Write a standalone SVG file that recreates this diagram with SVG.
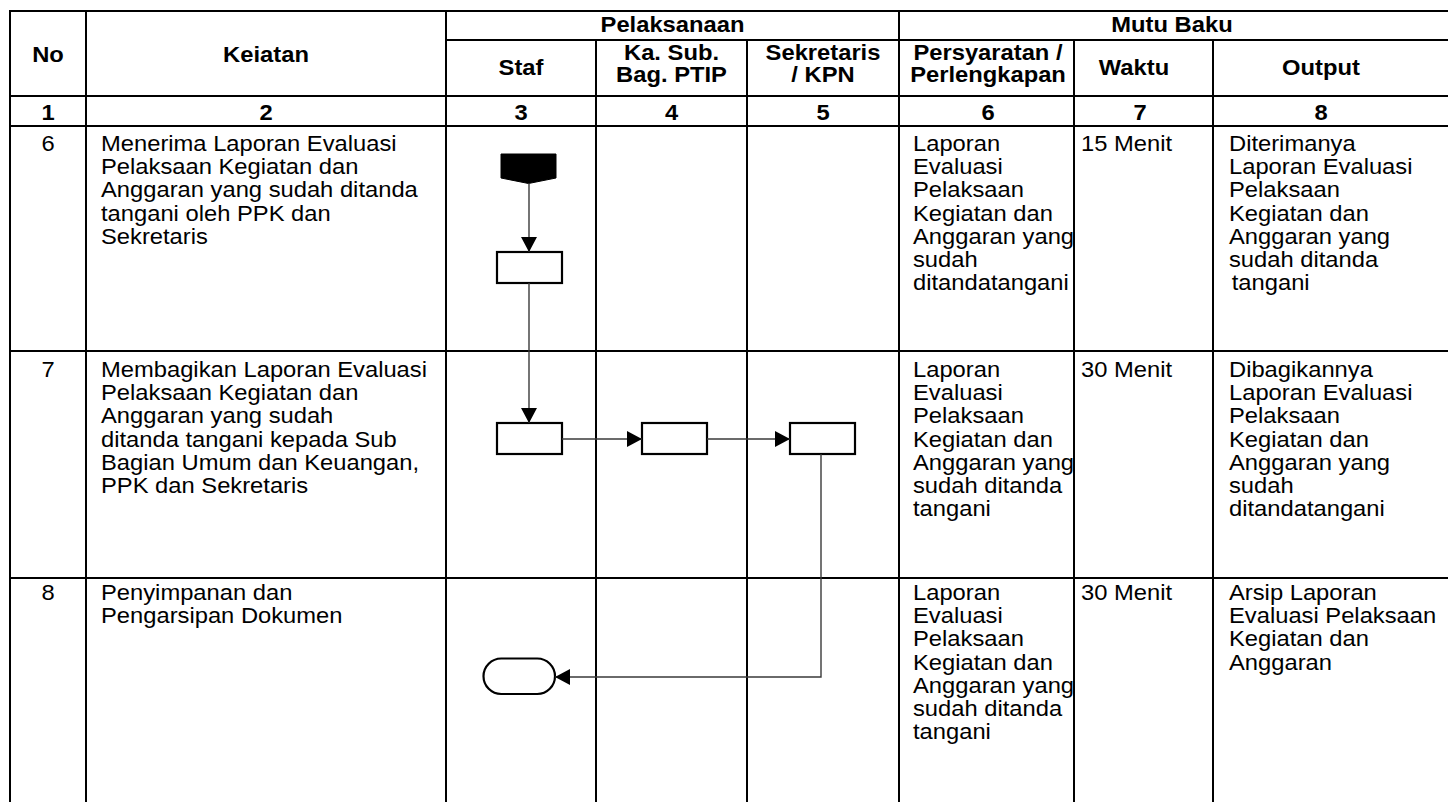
<svg xmlns="http://www.w3.org/2000/svg" width="1448" height="802" viewBox="0 0 1448 802">
  <style>
    .t { font-family: "Liberation Sans", Arial, sans-serif; font-size: 21.5px; fill: #000; }
    .b { font-weight: bold; }
    .c { text-anchor: middle; }
    .grid line { stroke: #000; stroke-width: 2; }
    .shape { fill: #fff; stroke: #000; stroke-width: 2.2; }
    .flow { fill: none; stroke: #3a3a3a; stroke-width: 1.4; }
  </style>
  <defs>
    <marker id="arrow" markerUnits="userSpaceOnUse" markerWidth="16" markerHeight="16" refX="15" refY="8" orient="auto">
      <path d="M0,0 L15,8 L0,16 Z" fill="#000"/>
    </marker>
  </defs>

  <rect width="1448" height="802" fill="#fff"/>

  <!-- table grid -->
  <g class="grid" id="grid">
    <line x1="10" y1="11" x2="1460" y2="11"/>
    <line x1="446" y1="40" x2="1460" y2="40"/>
    <line x1="10" y1="96" x2="1460" y2="96"/>
    <line x1="10" y1="126" x2="1460" y2="126"/>
    <line x1="10" y1="351" x2="1460" y2="351"/>
    <line x1="10" y1="578" x2="1460" y2="578"/>
    <line x1="10" y1="10" x2="10" y2="804"/>
    <line x1="86" y1="10" x2="86" y2="804"/>
    <line x1="446" y1="10" x2="446" y2="804"/>
    <line x1="596" y1="40" x2="596" y2="804"/>
    <line x1="747" y1="40" x2="747" y2="804"/>
    <line x1="899" y1="10" x2="899" y2="804"/>
    <line x1="1074" y1="40" x2="1074" y2="804"/>
    <line x1="1213" y1="40" x2="1213" y2="804"/>
  </g>

  <!-- column headings -->
  <g id="header">
    <text class="t b c" transform="translate(48 62) scale(1.105 1)">No</text>
    <text class="t b c" transform="translate(266 62) scale(1.105 1)">Keiatan</text>
    <text class="t b c" transform="translate(672.5 32) scale(1.105 1)">Pelaksanaan</text>
    <text class="t b c" transform="translate(521 75) scale(1.105 1)">Staf</text>
    <text class="t b c" transform="translate(671.5 60) scale(1.105 1)"><tspan x="0">Ka. Sub.</tspan><tspan x="0" dy="22.5">Bag. PTIP</tspan></text>
    <text class="t b c" transform="translate(823 60) scale(1.105 1)"><tspan x="0">Sekretaris</tspan><tspan x="0" dy="22.5">/ KPN</tspan></text>
    <text class="t b c" transform="translate(1172 32) scale(1.105 1)">Mutu Baku</text>
    <text class="t b c" transform="translate(988 60) scale(1.105 1)"><tspan x="0">Persyaratan /</tspan><tspan x="0" dy="22.5">Perlengkapan</tspan></text>
    <text class="t b c" transform="translate(1134 75) scale(1.105 1)">Waktu</text>
    <text class="t b c" transform="translate(1321 75) scale(1.105 1)">Output</text>
  </g>

  <!-- column numbers -->
  <g id="numbers">
    <text class="t b c" transform="translate(48 120) scale(1.105 1)">1</text>
    <text class="t b c" transform="translate(266 120) scale(1.105 1)">2</text>
    <text class="t b c" transform="translate(521 120) scale(1.105 1)">3</text>
    <text class="t b c" transform="translate(671.5 120) scale(1.105 1)">4</text>
    <text class="t b c" transform="translate(823 120) scale(1.105 1)">5</text>
    <text class="t b c" transform="translate(988 120) scale(1.105 1)">6</text>
    <text class="t b c" transform="translate(1140 120) scale(1.105 1)">7</text>
    <text class="t b c" transform="translate(1321 120) scale(1.105 1)">8</text>
  </g>

  <!-- step 6 -->
  <g id="row6">
    <text class="t c" transform="translate(48 151) scale(1.105 1)">6</text>
    <text class="t" transform="translate(101 151) scale(1.105 1)"><tspan x="0">Menerima Laporan Evaluasi</tspan><tspan x="0" dy="23.2">Pelaksaan Kegiatan dan</tspan><tspan x="0" dy="23.2">Anggaran yang sudah ditanda</tspan><tspan x="0" dy="23.2">tangani oleh PPK dan</tspan><tspan x="0" dy="23.2">Sekretaris</tspan></text>
    <text class="t" transform="translate(913 151) scale(1.105 1)"><tspan x="0">Laporan</tspan><tspan x="0" dy="23.2">Evaluasi</tspan><tspan x="0" dy="23.2">Pelaksaan</tspan><tspan x="0" dy="23.2">Kegiatan dan</tspan><tspan x="0" dy="23.2">Anggaran yang</tspan><tspan x="0" dy="23.2">sudah</tspan><tspan x="0" dy="23.2">ditandatangani</tspan></text>
    <text class="t" transform="translate(1081 151) scale(1.105 1)">15 Menit</text>
    <text class="t" transform="translate(1229 151) scale(1.105 1)"><tspan x="0">Diterimanya</tspan><tspan x="0" dy="23.2">Laporan Evaluasi</tspan><tspan x="0" dy="23.2">Pelaksaan</tspan><tspan x="0" dy="23.2">Kegiatan dan</tspan><tspan x="0" dy="23.2">Anggaran yang</tspan><tspan x="0" dy="23.2">sudah ditanda</tspan><tspan x="2.5" dy="23.2">tangani</tspan></text>
  </g>

  <!-- step 7 -->
  <g id="row7">
    <text class="t c" transform="translate(48 377) scale(1.105 1)">7</text>
    <text class="t" transform="translate(101 377) scale(1.105 1)"><tspan x="0">Membagikan Laporan Evaluasi</tspan><tspan x="0" dy="23.2">Pelaksaan Kegiatan dan</tspan><tspan x="0" dy="23.2">Anggaran yang sudah</tspan><tspan x="0" dy="23.2">ditanda tangani kepada Sub</tspan><tspan x="0" dy="23.2">Bagian Umum dan Keuangan,</tspan><tspan x="0" dy="23.2">PPK dan Sekretaris</tspan></text>
    <text class="t" transform="translate(913 377) scale(1.105 1)"><tspan x="0">Laporan</tspan><tspan x="0" dy="23.2">Evaluasi</tspan><tspan x="0" dy="23.2">Pelaksaan</tspan><tspan x="0" dy="23.2">Kegiatan dan</tspan><tspan x="0" dy="23.2">Anggaran yang</tspan><tspan x="0" dy="23.2">sudah ditanda</tspan><tspan x="0" dy="23.2">tangani</tspan></text>
    <text class="t" transform="translate(1081 377) scale(1.105 1)">30 Menit</text>
    <text class="t" transform="translate(1229 377) scale(1.105 1)"><tspan x="0">Dibagikannya</tspan><tspan x="0" dy="23.2">Laporan Evaluasi</tspan><tspan x="0" dy="23.2">Pelaksaan</tspan><tspan x="0" dy="23.2">Kegiatan dan</tspan><tspan x="0" dy="23.2">Anggaran yang</tspan><tspan x="0" dy="23.2">sudah</tspan><tspan x="0" dy="23.2">ditandatangani</tspan></text>
  </g>

  <!-- step 8 -->
  <g id="row8">
    <text class="t c" transform="translate(48 600) scale(1.105 1)">8</text>
    <text class="t" transform="translate(101 600) scale(1.105 1)"><tspan x="0">Penyimpanan dan</tspan><tspan x="0" dy="23.2">Pengarsipan Dokumen</tspan></text>
    <text class="t" transform="translate(913 600) scale(1.105 1)"><tspan x="0">Laporan</tspan><tspan x="0" dy="23.2">Evaluasi</tspan><tspan x="0" dy="23.2">Pelaksaan</tspan><tspan x="0" dy="23.2">Kegiatan dan</tspan><tspan x="0" dy="23.2">Anggaran yang</tspan><tspan x="0" dy="23.2">sudah ditanda</tspan><tspan x="0" dy="23.2">tangani</tspan></text>
    <text class="t" transform="translate(1081 600) scale(1.105 1)">30 Menit</text>
    <text class="t" transform="translate(1229 600) scale(1.105 1)"><tspan x="0">Arsip Laporan</tspan><tspan x="0" dy="23.2">Evaluasi Pelaksaan</tspan><tspan x="0" dy="23.2">Kegiatan dan</tspan><tspan x="0" dy="23.2">Anggaran</tspan></text>
  </g>

  <!-- flow symbols -->
  <g id="start-connector">
    <polygon points="501,154 556,154 556,178 528.5,183.5 501,178" fill="#000" stroke="#000" stroke-width="1"/>
  </g>
  <g id="staf-receive">
    <rect class="shape" x="497" y="252" width="65" height="31"/>
  </g>
  <g id="staf-distribute">
    <rect class="shape" x="497" y="423" width="65" height="31"/>
  </g>
  <g id="kasubbag">
    <rect class="shape" x="642" y="423" width="65" height="31"/>
  </g>
  <g id="sekretaris">
    <rect class="shape" x="790" y="423" width="65" height="31"/>
  </g>
  <g id="end">
    <rect class="shape" x="483.5" y="658.5" width="71.5" height="35.5" rx="17.75"/>
  </g>

  <!-- connectors -->
  <g id="connectors">
    <path class="flow" d="M529,183.5 V252" marker-end="url(#arrow)"/>
    <path class="flow" d="M529,283 V423" marker-end="url(#arrow)"/>
    <path class="flow" d="M562,439 H642" marker-end="url(#arrow)"/>
    <path class="flow" d="M707,439 H790" marker-end="url(#arrow)"/>
    <path class="flow" d="M821,454 V677 H555" marker-end="url(#arrow)"/>
  </g>
</svg>
